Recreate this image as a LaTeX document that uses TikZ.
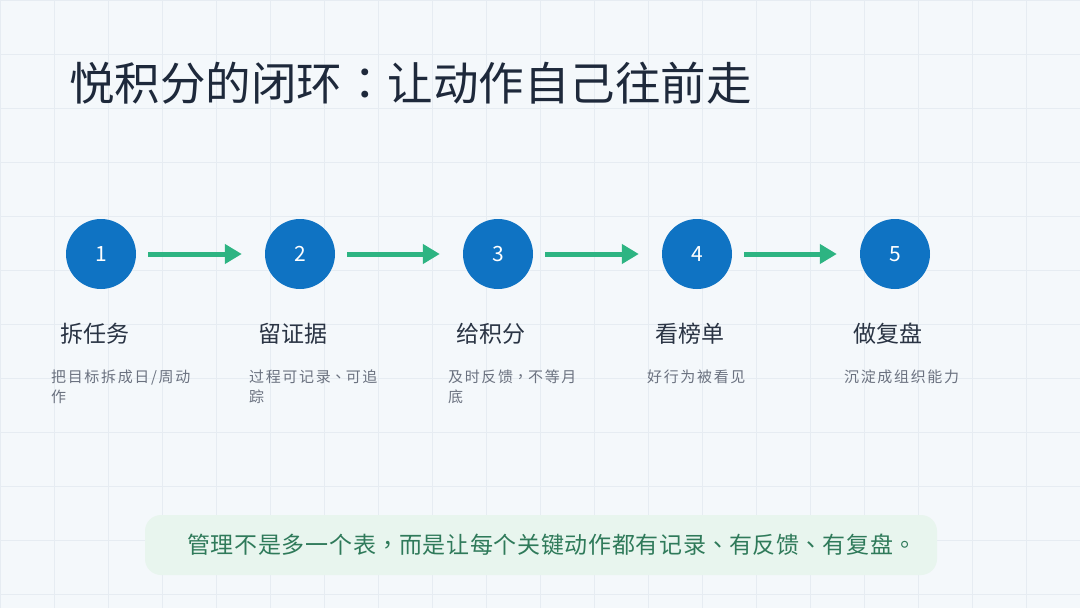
\documentclass[tikz,border=0pt]{standalone}
\usepackage{fontspec}
\setmainfont{Noto Sans CJK SC}
\newfontfamily\tcpfont{Noto Sans CJK TC}
\newcommand\tcpunct[1]{{\tcpfont #1}}
\usetikzlibrary{arrows.meta}
\definecolor{bgc}{HTML}{F4F8FB}
\definecolor{gridc}{HTML}{E6ECF2}
\definecolor{titlec}{HTML}{1E293B}
\definecolor{circc}{HTML}{0F73C3}
\definecolor{arrc}{HTML}{2DB482}
\definecolor{labc}{HTML}{2A3444}
\definecolor{descc}{HTML}{6B7280}
\definecolor{boxc}{HTML}{E8F5EE}
\definecolor{boxtc}{HTML}{2F7A5A}
\tikzset{
  stepcirc/.style={circle, fill=circc, minimum size=70pt, inner sep=0pt, text=white, font=\fontsize{21}{21}\selectfont},
  steplab/.style={anchor=base west, inner sep=0pt, text=labc, font=\fontsize{23}{23}\selectfont},
  stepdesc/.style={anchor=north west, inner sep=0pt, align=left, text=descc, font=\fontsize{15}{20}\selectfont\addfontfeatures{LetterSpace=11}},
  flowarrow/.style={draw=arrc, line width=5pt, -{Triangle[length=17pt,width=19pt]}, shorten <=12pt, shorten >=23pt},
}
\begin{document}
\begin{tikzpicture}[x=1pt,y=-1pt]
\fill[bgc] (0,0) rectangle (1080,608);
\useasboundingbox (0,0) rectangle (1080,608);
\foreach \gx in {0,54,...,1080} \draw[gridc, line width=0.9pt] (\gx,0) -- (\gx,608);
\foreach \gy in {0,54,...,594} \draw[gridc, line width=0.9pt] (0,\gy) -- (1080,\gy);

\node[anchor=base west, inner sep=0pt, text=titlec, font=\fontsize{45.5}{45.5}\selectfont] (title) at (69,100) {悦积分的闭环\tcpunct{：}让动作自己往前走};

\node[stepcirc] (c1) at (101,254) {1};
\node[stepcirc] (c2) at (300,254) {2};
\node[stepcirc] (c3) at (498,254) {3};
\node[stepcirc] (c4) at (697,254) {4};
\node[stepcirc] (c5) at (895,254) {5};

\draw[flowarrow] (c1) -- (c2);
\draw[flowarrow] (c2) -- (c3);
\draw[flowarrow] (c3) -- (c4);
\draw[flowarrow] (c4) -- (c5);

\node[steplab] (l1) at (60,342) {拆任务};
\node[steplab] (l2) at (258,342) {留证据};
\node[steplab] (l3) at (456,342) {给积分};
\node[steplab] (l4) at (655,342) {看榜单};
\node[steplab] (l5) at (853,342) {做复盘};

\node[stepdesc] (d1) at (51,370) {把目标拆成日/周动\\作};
\node[stepdesc] (d2) at (249,370) {过程可记录\tcpunct{、}可追\\踪};
\node[stepdesc] (d3) at (448,370) {及时反馈\tcpunct{，}不等月\\底};
\node[stepdesc] (d4) at (647,370) {好行为被看见};
\node[stepdesc] (d5) at (844,370) {沉淀成组织能力};

\fill[boxc, rounded corners=16pt] (145,515) rectangle (937,575);
\node[anchor=west, inner sep=0pt, text=boxtc, font=\fontsize{23}{23}\selectfont\addfontfeatures{LetterSpace=3}] (note) at (187,545) {管理不是多一个表\tcpunct{，}而是让每个关键动作都有记录\tcpunct{、}有反馈\tcpunct{、}有复盘\tcpunct{。}};
\end{tikzpicture}
\end{document}
